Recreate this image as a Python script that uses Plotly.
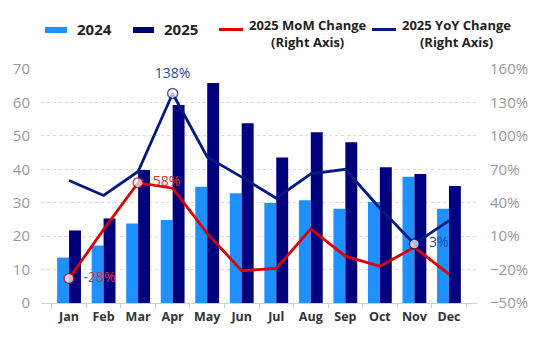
import plotly.graph_objects as go

months = ["Jan", "Feb", "Mar", "Apr", "May", "Jun", "Jul", "Aug", "Sep", "Oct", "Nov", "Dec"]
v2024 = [13.6, 17.2, 23.8, 24.8, 34.8, 32.8, 29.9, 30.7, 28.2, 30.2, 37.8, 28.2]
v2025 = [21.7, 25.3, 39.8, 59.2, 65.8, 53.8, 43.5, 51.1, 48.1, 40.6, 38.6, 35.0]
mom_2025 = [-28, 16, 58, 53, 12.5, -21, -19, 16.5, -8, -17, 0, -24]
yoy_2025 = [60, 46.5, 68, 138, 81, 63, 44, 66, 70, 35, 3, 24]

mom_labels = {"Jan": "-28%", "Mar": "58%"}
yoy_labels = {"Apr": "138%", "Nov": "3%"}
yoy_label_pos = {"Apr": "top center", "Nov": "middle right"}

C24 = "#1E90FF"
C25 = "#00007F"
CRED = "#DD0000"
CYOY = "#001A80"
FONT = "Open Sans"
PAD = "\u00a0\u00a0"

fig = go.Figure()
fig.add_trace(go.Bar(name="2024", x=months, y=v2024, marker_color=C24, marker_line_width=0))
fig.add_trace(go.Bar(name="2025", x=months, y=v2025, marker_color=C25, marker_line_width=0))

fig.add_trace(go.Scatter(
    name="2025 MoM Change (Right Axis)", x=months, y=mom_2025, yaxis="y2",
    mode="lines+markers+text",
    line=dict(color=CRED, width=2.8),
    marker=dict(size=[10 if m in mom_labels else 0 for m in months], color="white",
                line=dict(color=CRED, width=1.5)),
    text=[PAD + mom_labels[m] if m in mom_labels else "" for m in months],
    textposition="middle right",
    textfont=dict(family=FONT, size=14, color="#E0302A"),
    cliponaxis=False,
))
fig.add_trace(go.Scatter(
    name="2025 YoY Change (Right Axis)", x=months, y=yoy_2025, yaxis="y2",
    mode="lines+markers",
    line=dict(color=CYOY, width=2.8),
    marker=dict(size=[10 if m in yoy_labels else 0 for m in months], color="white",
                line=dict(color=CYOY, width=1.5)),
    cliponaxis=False,
))
# label layer for the YoY series (invisible markers only set the text offset)
fig.add_trace(go.Scatter(
    name="2025 YoY labels", x=months, y=yoy_2025, yaxis="y2",
    mode="markers+text", hoverinfo="skip", showlegend=False,
    marker=dict(size=[18 if yoy_label_pos.get(m) == "top center" else 10 for m in months],
                color="white", opacity=0, line=dict(width=0)),
    text=[(yoy_labels[m] if yoy_label_pos[m] == "top center" else PAD + yoy_labels[m])
          if m in yoy_labels else "" for m in months],
    textposition=[yoy_label_pos.get(m, "middle right") for m in months],
    textfont=dict(family=FONT, size=14, color="#1F4AA0"),
    cliponaxis=False,
))

W, H = 550, 351
ML, MR, MT, MB = 41, 73, 69, 48
PW, PH = W - ML - MR, H - MT - MB


def px(x):
    return (x - ML) / PW


def py(y):
    return (H - MB - y) / PH


shapes = [
    dict(type="rect", xref="paper", yref="paper", x0=px(45), x1=px(67), y0=py(33), y1=py(27),
         fillcolor=C24, line_width=0),
    dict(type="rect", xref="paper", yref="paper", x0=px(133), x1=px(154), y0=py(33), y1=py(27),
         fillcolor=C25, line_width=0),
    dict(type="line", xref="paper", yref="paper", x0=px(219), x1=px(243), y0=py(29.5), y1=py(29.5),
         line=dict(color=CRED, width=3)),
    dict(type="line", xref="paper", yref="paper", x0=px(372), x1=px(396), y0=py(29.5), y1=py(29.5),
         line=dict(color=CYOY, width=3)),
]
annotations = [
    dict(xref="paper", yref="paper", x=px(75), y=py(29.5), text="<b>2024</b>", showarrow=False,
         xanchor="left", yanchor="middle", font=dict(family=FONT, size=15, color="#222")),
    dict(xref="paper", yref="paper", x=px(162), y=py(29.5), text="<b>2025</b>", showarrow=False,
         xanchor="left", yanchor="middle", font=dict(family=FONT, size=15, color="#222")),
    dict(xref="paper", yref="paper", x=px(308), y=py(33), text="<b>2025 MoM Change</b><br><b>(Right Axis)</b>",
         showarrow=False, xanchor="center", yanchor="middle", align="center",
         font=dict(family=FONT, size=13, color="#222")),
    dict(xref="paper", yref="paper", x=px(456), y=py(33), text="<b>2025 YoY Change</b><br><b>(Right Axis)</b>",
         showarrow=False, xanchor="center", yanchor="middle", align="center",
         font=dict(family=FONT, size=13, color="#222")),
]

fig.update_layout(
    width=W, height=H,
    margin=dict(l=ML, r=MR, t=MT, b=MB, pad=0),
    paper_bgcolor="white", plot_bgcolor="white",
    barmode="group", bargap=0.31, bargroupgap=0,
    showlegend=False,
    font=dict(family=FONT),
    shapes=shapes, annotations=annotations,
    xaxis=dict(
        type="category", tickson="boundaries", ticks="outside", ticklen=4, tickcolor="#d0d0d0",
        showline=True, linecolor="#d0d0d0", linewidth=1, showgrid=False, tickangle=0,
        tickfont=dict(family=FONT, size=12.5, color="#333"),
        tickprefix="<b>", ticksuffix="</b>", ticklabelstandoff=2,
    ),
    yaxis=dict(
        range=[0, 70], dtick=10, showgrid=True, gridcolor="#dcdcdc", griddash="dot", gridwidth=1,
        zeroline=False, showline=False, ticks="", ticklabelstandoff=10,
        tickfont=dict(family=FONT, size=15, color="#9a9a9a"),
    ),
    yaxis2=dict(
        range=[-50, 160], tick0=-50, dtick=30, overlaying="y", side="right", showgrid=False,
        zeroline=False, showline=False, ticks="", ticksuffix="%", ticklabelstandoff=12,
        tickfont=dict(family=FONT, size=15, color="#9a9a9a"),
    ),
)

fig.write_html("out.html")
